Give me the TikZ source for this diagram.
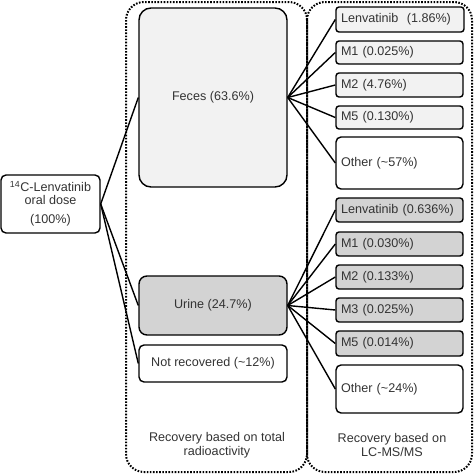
\documentclass[tikz,border=0pt]{standalone}
\usepackage{fontspec}
\setmainfont{Liberation Sans}
\definecolor{txtgray}{HTML}{333333}
\definecolor{lightfill}{HTML}{F2F2F2}
\definecolor{darkfill}{HTML}{D3D3D3}
\begin{document}
\begin{tikzpicture}[x=1pt, y=-1pt, line width=1.4pt,
  every node/.style={text=txtgray, font=\fontsize{12.6}{14}\selectfont},
  box/.style={draw, inner sep=0pt, align=center},
  mbox/.style={draw, rounded corners=3pt, inner xsep=5pt, inner ysep=0pt,
    text width=117pt, align=left, minimum height=24pt},
  region/.style={rounded corners=18pt, line width=2pt, dash pattern=on 1.6pt off 1.5pt}]
  \useasboundingbox (0,0) rectangle (474,474);
  % two dotted regions
  \draw[region] (126,2) rectangle (307,472);
  \draw[region] (307,2) rectangle (472,472);
  % dose
  \node[box, rounded corners=5pt, minimum width=99pt, minimum height=58pt,
    font=\fontsize{12.6}{13}\selectfont] (dose) at (50.5,204)
    {\textsuperscript{14}C-Lenvatinib\\oral dose\\[6pt](100\%)};
  % total radioactivity
  \node[box, rounded corners=12pt, fill=lightfill, minimum width=148pt, minimum height=179pt]
    (fec) at (213,97.5) {Feces (63.6\%)};
  \node[box, rounded corners=8pt, fill=darkfill, minimum width=148pt, minimum height=59pt]
    (uri) at (213,305.5) {Urine (24.7\%)};
  \node[box, rounded corners=5pt, minimum width=148pt, minimum height=37pt]
    (nrc) at (213,363.5) {Not recovered (\textasciitilde12\%)};
  % feces metabolites
  \node[mbox, fill=lightfill, text width=118pt, minimum height=25pt] (f1) at (400,19.5) {Lenvatinib~ (1.86\%)};
  \node[mbox, fill=lightfill, minimum height=23pt] (f2) at (399.5,52.5) {M1 (0.025\%)};
  \node[mbox, fill=lightfill] (f3) at (399.5,85) {M2 (4.76\%)};
  \node[mbox, fill=lightfill, minimum height=23pt] (f4) at (399.5,117.5) {M5 (0.130\%)};
  \node[mbox, rounded corners=5pt, minimum height=52pt] (f5) at (399.5,163) {Other (\textasciitilde57\%)};
  % urine metabolites
  \node[mbox, fill=darkfill] (u1) at (399.5,210) {Lenvatinib (0.636\%)};
  \node[mbox, fill=darkfill] (u2) at (399.5,244) {M1 (0.030\%)};
  \node[mbox, fill=darkfill] (u3) at (399.5,277) {M2 (0.133\%)};
  \node[mbox, fill=darkfill] (u4) at (399.5,310) {M3 (0.025\%)};
  \node[mbox, fill=darkfill, minimum height=25pt] (u5) at (399.5,343.5) {M5 (0.014\%)};
  \node[mbox, rounded corners=5pt, minimum height=48pt] (u6) at (399.5,389) {Other (\textasciitilde24\%)};
  % connectors
  \draw (dose.east) -- (fec.west);
  \draw (dose.east) -- (uri.west);
  \draw (dose.east) -- (nrc.west);
  \draw (fec.east) -- (f1.west);
  \draw (fec.east) -- (f2.west);
  \draw (fec.east) -- (f3.west);
  \draw (fec.east) -- (f4.west);
  \draw (fec.east) -- (f5.west);
  \draw (uri.east) -- (u1.west);
  \draw (uri.east) -- (u2.west);
  \draw (uri.east) -- (u3.west);
  \draw (uri.east) -- (u4.west);
  \draw (uri.east) -- (u5.west);
  \draw (uri.east) -- (u6.west);
  % region labels
  \node[align=center] (lbltot) at (217,445) {Recovery based on total\\radioactivity};
  \node[align=center] (lbllc) at (392,445) {Recovery based on\\LC-MS/MS};
\end{tikzpicture}
\end{document}
